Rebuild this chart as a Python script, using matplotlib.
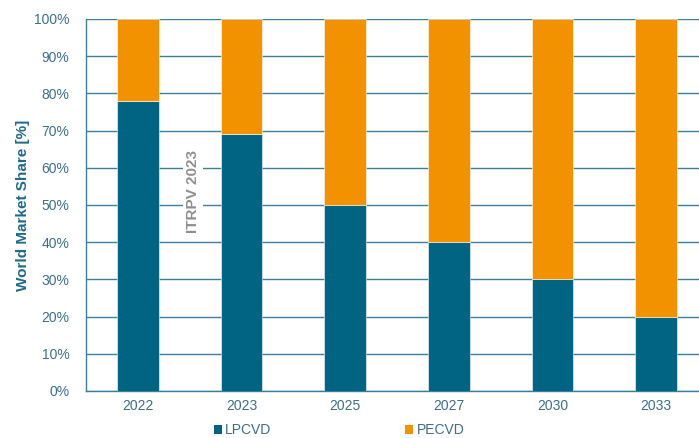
import matplotlib
matplotlib.use('Agg')
import matplotlib.pyplot as plt
from matplotlib.patches import Patch

plt.rcParams['font.family'] = ['Liberation Sans', 'DejaVu Sans']

years = ['2022', '2023', '2025', '2027', '2030', '2033']
lpcvd = [78, 69, 50, 40, 30, 20]
pecvd = [100 - v for v in lpcvd]

TEAL = '#006482'
ORANGE = '#f39200'
GRID = '#3d7f98'
TXT = '#3b6f88'

fig = plt.figure(figsize=(6.99, 4.38), dpi=100)
ax = fig.add_axes([86 / 699, 47 / 438, 622 / 699, 372 / 438])

x = range(len(years))
ax.bar(x, lpcvd, width=0.4, color=TEAL, edgecolor='white', linewidth=0.4, zorder=3)
ax.bar(x, pecvd, width=0.4, bottom=lpcvd, color=ORANGE, edgecolor='white', linewidth=0.4, zorder=3)

ax.set_xlim(-0.5, 5.5)
ax.set_ylim(0, 100)
ax.set_yticks(range(0, 101, 10))
ax.set_yticklabels([f'{v}%' for v in range(0, 101, 10)])
ax.set_xticks(list(x))
ax.set_xticklabels(years)
ax.yaxis.grid(True, color=GRID, linewidth=1.0, zorder=0)
ax.set_axisbelow(True)
ax.tick_params(length=0, labelsize=10, labelcolor=TXT, pad=12)
ax.tick_params(axis='x', pad=6)
for s in ['top', 'right']:
    ax.spines[s].set_visible(False)
for s in ['left', 'bottom']:
    ax.spines[s].set_color(GRID)
    ax.spines[s].set_linewidth(1.0)

ax.set_ylabel('World Market Share [%]', fontsize=11, fontweight='bold', color='#1e6a88', labelpad=3)

ax.text(0.53, 53.5, 'ITRPV 2023', rotation=90, ha='center', va='center',
        fontsize=11, fontweight='bold', color='#8f8f8f', zorder=4,
        bbox=dict(facecolor='white', edgecolor='none', pad=2))

handles = [Patch(facecolor=TEAL, label='LPCVD'), Patch(facecolor=ORANGE, label='PECVD')]
leg = fig.legend(handles=handles, loc='center', bbox_to_anchor=(339 / 699, 1 - 430 / 438),
                 ncol=2, frameon=False, fontsize=10, handlelength=0.6, handleheight=0.6,
                 handletextpad=0.25, columnspacing=9.6)
for t in leg.get_texts():
    t.set_color(TXT)

fig.savefig('out.png', dpi=100)
